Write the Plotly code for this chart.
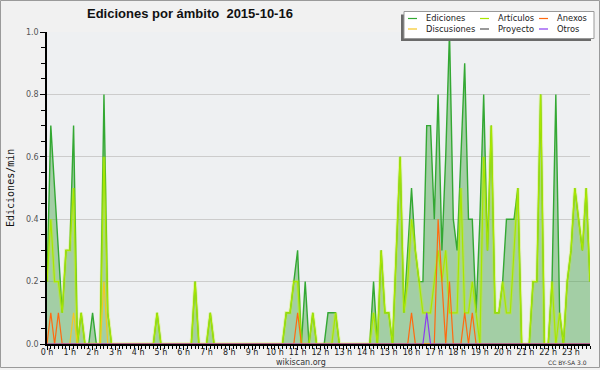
import plotly.graph_objects as go

# ---------------- data (edits per minute, 10-minute slots, 2015-10-16) ----------------
hours = list(range(24))
slots_per_hour = 6

ediciones = [
    0.2, 0.7, 0.5, 0.3, 0.1, 0.3,   # 0 h
    0.3, 0.7, 0.0, 0.1, 0.0, 0.0,   # 1 h
    0.1, 0.0, 0.0, 0.8, 0.1, 0.0,   # 2 h
    0.0, 0.0, 0.0, 0.0, 0.0, 0.0,   # 3 h
    0.0, 0.0, 0.0, 0.0, 0.0, 0.1,   # 4 h
    0.0, 0.0, 0.0, 0.0, 0.0, 0.0,   # 5 h
    0.0, 0.0, 0.0, 0.2, 0.0, 0.0,   # 6 h
    0.0, 0.1, 0.0, 0.0, 0.0, 0.0,   # 7 h
    0.0, 0.0, 0.0, 0.0, 0.0, 0.0,   # 8 h
    0.0, 0.0, 0.0, 0.0, 0.0, 0.0,   # 9 h
    0.0, 0.0, 0.0, 0.1, 0.1, 0.2,   # 10 h
    0.3, 0.0, 0.2, 0.0, 0.1, 0.0,   # 11 h
    0.0, 0.0, 0.1, 0.1, 0.1, 0.0,   # 12 h
    0.0, 0.0, 0.0, 0.0, 0.0, 0.0,   # 13 h
    0.0, 0.0, 0.2, 0.0, 0.3, 0.1,   # 14 h
    0.1, 0.0, 0.3, 0.6, 0.1, 0.3,   # 15 h
    0.5, 0.3, 0.2, 0.2, 0.7, 0.7,   # 16 h
    0.4, 0.8, 0.3, 0.6, 1.0, 0.4,   # 17 h
    0.3, 0.6, 0.9, 0.4, 0.4, 0.1,   # 18 h
    0.4, 0.8, 0.3, 0.7, 0.1, 0.1,   # 19 h
    0.2, 0.4, 0.4, 0.4, 0.5, 0.0,   # 20 h
    0.0, 0.0, 0.2, 0.2, 0.8, 0.0,   # 21 h
    0.0, 0.2, 0.8, 0.1, 0.0, 0.2,   # 22 h
    0.3, 0.5, 0.4, 0.3, 0.5, 0.2,   # 23 h
]

articulos = [
    0.2, 0.4, 0.2, 0.2, 0.1, 0.3,
    0.3, 0.5, 0.0, 0.1, 0.0, 0.0,
    0.0, 0.0, 0.0, 0.6, 0.1, 0.0,
    0.0, 0.0, 0.0, 0.0, 0.0, 0.0,
    0.0, 0.0, 0.0, 0.0, 0.0, 0.1,
    0.0, 0.0, 0.0, 0.0, 0.0, 0.0,
    0.0, 0.0, 0.0, 0.2, 0.0, 0.0,
    0.0, 0.1, 0.0, 0.0, 0.0, 0.0,
    0.0, 0.0, 0.0, 0.0, 0.0, 0.0,
    0.0, 0.0, 0.0, 0.0, 0.0, 0.0,
    0.0, 0.0, 0.0, 0.1, 0.1, 0.2,
    0.2, 0.0, 0.0, 0.0, 0.1, 0.0,
    0.0, 0.0, 0.0, 0.0, 0.1, 0.0,
    0.0, 0.0, 0.0, 0.0, 0.0, 0.0,
    0.0, 0.0, 0.1, 0.0, 0.3, 0.1,
    0.1, 0.0, 0.3, 0.6, 0.1, 0.2,
    0.4, 0.3, 0.2, 0.1, 0.1, 0.1,
    0.2, 0.3, 0.2, 0.3, 0.1, 0.1,
    0.1, 0.5, 0.1, 0.1, 0.2, 0.1,
    0.0, 0.6, 0.3, 0.7, 0.1, 0.1,
    0.2, 0.1, 0.1, 0.3, 0.5, 0.0,
    0.0, 0.0, 0.2, 0.2, 0.8, 0.0,
    0.0, 0.2, 0.0, 0.1, 0.0, 0.2,
    0.3, 0.5, 0.4, 0.3, 0.5, 0.2,
]

anexos = [
    0.0, 0.1, 0.0, 0.1, 0.0, 0.0,
    0.0, 0.0, 0.0, 0.0, 0.0, 0.0,
    0.0, 0.0, 0.0, 0.0, 0.0, 0.0,
    0.0, 0.0, 0.0, 0.0, 0.0, 0.0,
    0.0, 0.0, 0.0, 0.0, 0.0, 0.0,
    0.0, 0.0, 0.0, 0.0, 0.0, 0.0,
    0.0, 0.0, 0.0, 0.0, 0.0, 0.0,
    0.0, 0.0, 0.0, 0.0, 0.0, 0.0,
    0.0, 0.0, 0.0, 0.0, 0.0, 0.0,
    0.0, 0.0, 0.0, 0.0, 0.0, 0.0,
    0.0, 0.0, 0.0, 0.0, 0.0, 0.0,
    0.1, 0.0, 0.0, 0.0, 0.0, 0.0,
    0.0, 0.0, 0.0, 0.0, 0.0, 0.0,
    0.0, 0.0, 0.0, 0.0, 0.0, 0.0,
    0.0, 0.0, 0.0, 0.0, 0.0, 0.0,
    0.0, 0.0, 0.0, 0.0, 0.0, 0.0,
    0.1, 0.0, 0.0, 0.0, 0.0, 0.0,
    0.0, 0.4, 0.2, 0.0, 0.2, 0.0,
    0.0, 0.0, 0.1, 0.0, 0.1, 0.0,
    0.0, 0.0, 0.0, 0.0, 0.0, 0.0,
    0.0, 0.0, 0.0, 0.0, 0.0, 0.0,
    0.0, 0.0, 0.0, 0.0, 0.0, 0.0,
    0.0, 0.0, 0.0, 0.0, 0.0, 0.0,
    0.0, 0.0, 0.0, 0.0, 0.0, 0.0,
]

discusiones = [
    0.0, 0.0, 0.0, 0.0, 0.0, 0.0,
    0.0, 0.1, 0.0, 0.0, 0.0, 0.0,
    0.0, 0.0, 0.0, 0.2, 0.0, 0.0,
] + [0.0] * 6 * 21

proyecto = [0.0] * 6 * 24

otros = [0.0] * 6 * 16 + [
    0.0, 0.0, 0.0, 0.0, 0.1, 0.0,   # 16 h
] + [0.0] * 6 * 7

# slot positions in hours (10-minute slots)
slots = [h + k / slots_per_hour for h in hours for k in range(slots_per_hour)]

series = [
    ("Ediciones", ediciones, "#33a833"),
    ("Artículos", articulos, "#a8e600"),
    ("Anexos", anexos, "#ff6a10"),
    ("Discusiones", discusiones, "#f5c623"),
    ("Proyecto", proyecto, "#555555"),
    ("Otros", otros, "#8a3cf0"),
]

# ---------------- layout geometry ----------------
W, H = 600, 370
L, R, T, B = 47, 10, 32, 26
PW, PH = W - L - R, H - T - B


def px(x):
    return (x - L) / PW


def py(y):
    return (H - B - y) / PH


fig = go.Figure()

# Ediciones: filled area
name, vals, col = series[0]
fig.add_trace(go.Scatter(x=slots, y=vals, mode="lines", name=name,
                         line=dict(color=col, width=1.4),
                         fill="tozeroy", fillcolor="rgba(70,165,70,0.45)",
                         showlegend=False))
# Artículos with soft glow
fig.add_trace(go.Scatter(x=slots, y=articulos, mode="lines", name="glow",
                         line=dict(color="rgba(200,250,0,0.30)", width=3.5),
                         showlegend=False, hoverinfo="skip"))
for name, vals, col in [series[1], series[4], series[3], series[2], series[5]]:
    fig.add_trace(go.Scatter(x=slots, y=vals, mode="lines", name=name,
                             line=dict(color=col, width=1.2), showlegend=False))

# ---------------- custom legend ----------------
shapes = []
annotations = []
# shadow + box
shapes.append(dict(type="rect", xref="paper", yref="paper",
                   x0=px(401), x1=px(591), y0=py(14.5), y1=py(41),
                   fillcolor="#6a6a6a", line=dict(width=0), layer="above"))
shapes.append(dict(type="rect", xref="paper", yref="paper",
                   x0=px(404), x1=px(594), y0=py(11.5), y1=py(38.5),
                   fillcolor="white", line=dict(color="#999999", width=1), layer="above"))
legend_cols = [(408, 424), (480, 496), (539, 555)]
legend_rows = [18.5, 29]
for idx, (name, vals, col) in enumerate(series):
    r, c = divmod(idx, 3)
    lx, tx = legend_cols[c]
    yy = legend_rows[r]
    shapes.append(dict(type="line", xref="paper", yref="paper",
                       x0=px(lx), x1=px(lx + 9), y0=py(yy), y1=py(yy),
                       line=dict(color=col, width=1.2), layer="above"))
    annotations.append(dict(text=name, xref="paper", yref="paper",
                            x=px(tx), y=py(yy), xanchor="left", yanchor="middle",
                            showarrow=False,
                            font=dict(family="DejaVu Sans", size=8.3, color="#222222")))

# title
annotations.append(dict(text="<b>Ediciones por ámbito  2015-10-16</b>",
                        xref="paper", yref="paper", x=px(85), y=py(14),
                        xanchor="left", yanchor="middle", showarrow=False,
                        font=dict(family="Liberation Sans", size=13, color="#111111")))
# y-axis title
annotations.append(dict(text="Ediciones/min", xref="paper", yref="paper",
                        x=px(10), y=py(188), textangle=-90,
                        xanchor="center", yanchor="middle", showarrow=False,
                        font=dict(family="DejaVu Sans Mono", size=10, color="#111111")))
# footer
annotations.append(dict(text="wikiscan.org", xref="paper", yref="paper",
                        x=px(301), y=py(362), xanchor="center", yanchor="middle",
                        showarrow=False,
                        font=dict(family="DejaVu Sans", size=8, color="#333333")))
annotations.append(dict(text="CC BY-SA 3.0", xref="paper", yref="paper",
                        x=px(589), y=py(362.5), xanchor="right", yanchor="middle",
                        showarrow=False,
                        font=dict(family="DejaVu Sans", size=6, color="#333333")))

# outer frame
shapes.append(dict(type="rect", xref="paper", yref="paper",
                   x0=px(0.5), x1=px(599.5), y0=py(0.5), y1=py(367.5),
                   line=dict(color="#9a9a9a", width=1), layer="below"))

fig.update_layout(
    width=W, height=H,
    margin=dict(l=L, r=R, t=T, b=B, pad=0),
    paper_bgcolor="#f1f1f1",
    plot_bgcolor="#eef0f2",
    showlegend=False,
    shapes=shapes,
    annotations=annotations,
    xaxis=dict(range=[0, slots[-1]], tick0=0, dtick=1, ticksuffix=" h",
               showgrid=False, zeroline=False,
               showline=True, linecolor="black", linewidth=1.5,
               ticks="outside", ticklen=4, tickcolor="black", tickwidth=1,
               ticklabelstandoff=-4,
               tickfont=dict(family="DejaVu Sans", size=8, color="#222222"),
               minor=dict(dtick=1 / 6, tick0=0, ticks="outside", ticklen=3,
                          tickcolor="black", tickwidth=1, showgrid=False),
               fixedrange=True),
    yaxis=dict(range=[0, 1], tick0=0, dtick=0.2, tickformat=".1f",
               showgrid=True, gridcolor="#cccccc", gridwidth=1, zeroline=False,
               showline=True, linecolor="black", linewidth=1.5,
               ticks="outside", ticklen=5, tickcolor="black", tickwidth=1,
               tickfont=dict(family="DejaVu Sans", size=8, color="#555555"),
               minor=dict(dtick=0.05, tick0=0, ticks="outside", ticklen=4,
                          tickcolor="black", tickwidth=1, showgrid=False),
               fixedrange=True),
)

fig.write_html("out.html", config={"displayModeBar": False},
               post_script="document.body.style.margin='0px';document.body.style.overflow='hidden';")
